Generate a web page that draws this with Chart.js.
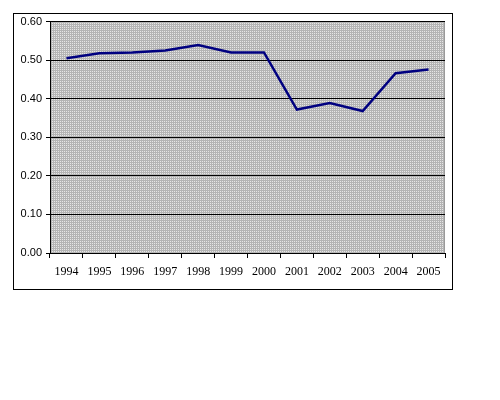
<!DOCTYPE html>
<html>
<head>
<meta charset="utf-8">
<script src="https://cdn.jsdelivr.net/npm/chart.js@4.4.1/dist/chart.umd.min.js"></script>
<style>
  html, body { margin: 0; padding: 0; background: #fff; }
  #frame { position: absolute; left: 13px; top: 13px; width: 438px; height: 275px; border: 1px solid #000; overflow: hidden; }
  canvas { display: block; position: absolute; left: 0; top: -3px; }
</style>
</head>
<body>
<div id="frame"><canvas id="c" width="438" height="278"></canvas></div>
<script>
const years = ['1994','1995','1996','1997','1998','1999','2000','2001','2002','2003','2004','2005'];
const values = [0.505, 0.518, 0.520, 0.525, 0.539, 0.520, 0.520, 0.372, 0.389, 0.368, 0.466, 0.476];
const yTicks = { min: 0, max: 0.6, step: 0.1 };

function makePattern(ctx) {
  const p = document.createElement('canvas');
  p.width = 2; p.height = 2;
  const g = p.getContext('2d');
  g.fillStyle = '#b4b4b4'; g.fillRect(0, 0, 2, 2);
  g.fillStyle = '#e6e6e6'; g.fillRect(0, 0, 1, 1);
  return ctx.createPattern(p, 'repeat');
}

const bgPlugin = {
  id: 'plotBg',
  beforeDraw(chart) {
    const { ctx, chartArea: a } = chart;
    ctx.save();
    ctx.fillStyle = makePattern(ctx);
    ctx.fillRect(a.left, a.top, a.right - a.left, a.bottom - a.top);
    ctx.strokeStyle = '#9a9a9a';
    ctx.lineWidth = 1;
    ctx.beginPath();
    ctx.moveTo(Math.round(a.right) - 0.5, a.top);
    ctx.lineTo(Math.round(a.right) - 0.5, a.bottom);
    ctx.stroke();
    ctx.restore();
  }
};

new Chart(document.getElementById('c'), {
  type: 'line',
  data: {
    labels: years,
    datasets: [{
      data: values,
      borderColor: '#000080',
      borderWidth: 2.5,
      pointRadius: 0,
      tension: 0,
      fill: false
    }]
  },
  options: {
    responsive: false,
    devicePixelRatio: 1,
    animation: false,
    layout: { padding: { top: 7, right: 7, left: 0, bottom: 0 } },
    plugins: { legend: { display: false }, tooltip: { enabled: false } },
    scales: {
      x: {
        offset: true,
        afterFit(s) { s.height = 36; },
        grid: { display: true, drawOnChartArea: false, offset: true, tickLength: 5, color: '#000', tickColor: '#000' },
        border: { display: true, color: '#000', width: 1 },
        ticks: { color: '#000', font: { family: '"Liberation Serif", "Times New Roman", serif', size: 12 }, padding: 7, maxRotation: 0, autoSkip: false }
      },
      y: {
        min: yTicks.min,
        max: yTicks.max,
        afterFit(s) { s.width = 36; },
        grid: { color: '#000', lineWidth: 1, tickLength: 4, tickColor: '#000' },
        border: { display: true, color: '#000', width: 1 },
        ticks: {
          stepSize: yTicks.step,
          color: '#000',
          padding: 4,
          font: { family: '"Liberation Sans", Arial, sans-serif', size: 11 },
          callback: v => v.toFixed(2)
        }
      }
    }
  },
  plugins: [bgPlugin]
});
</script>
</body>
</html>
